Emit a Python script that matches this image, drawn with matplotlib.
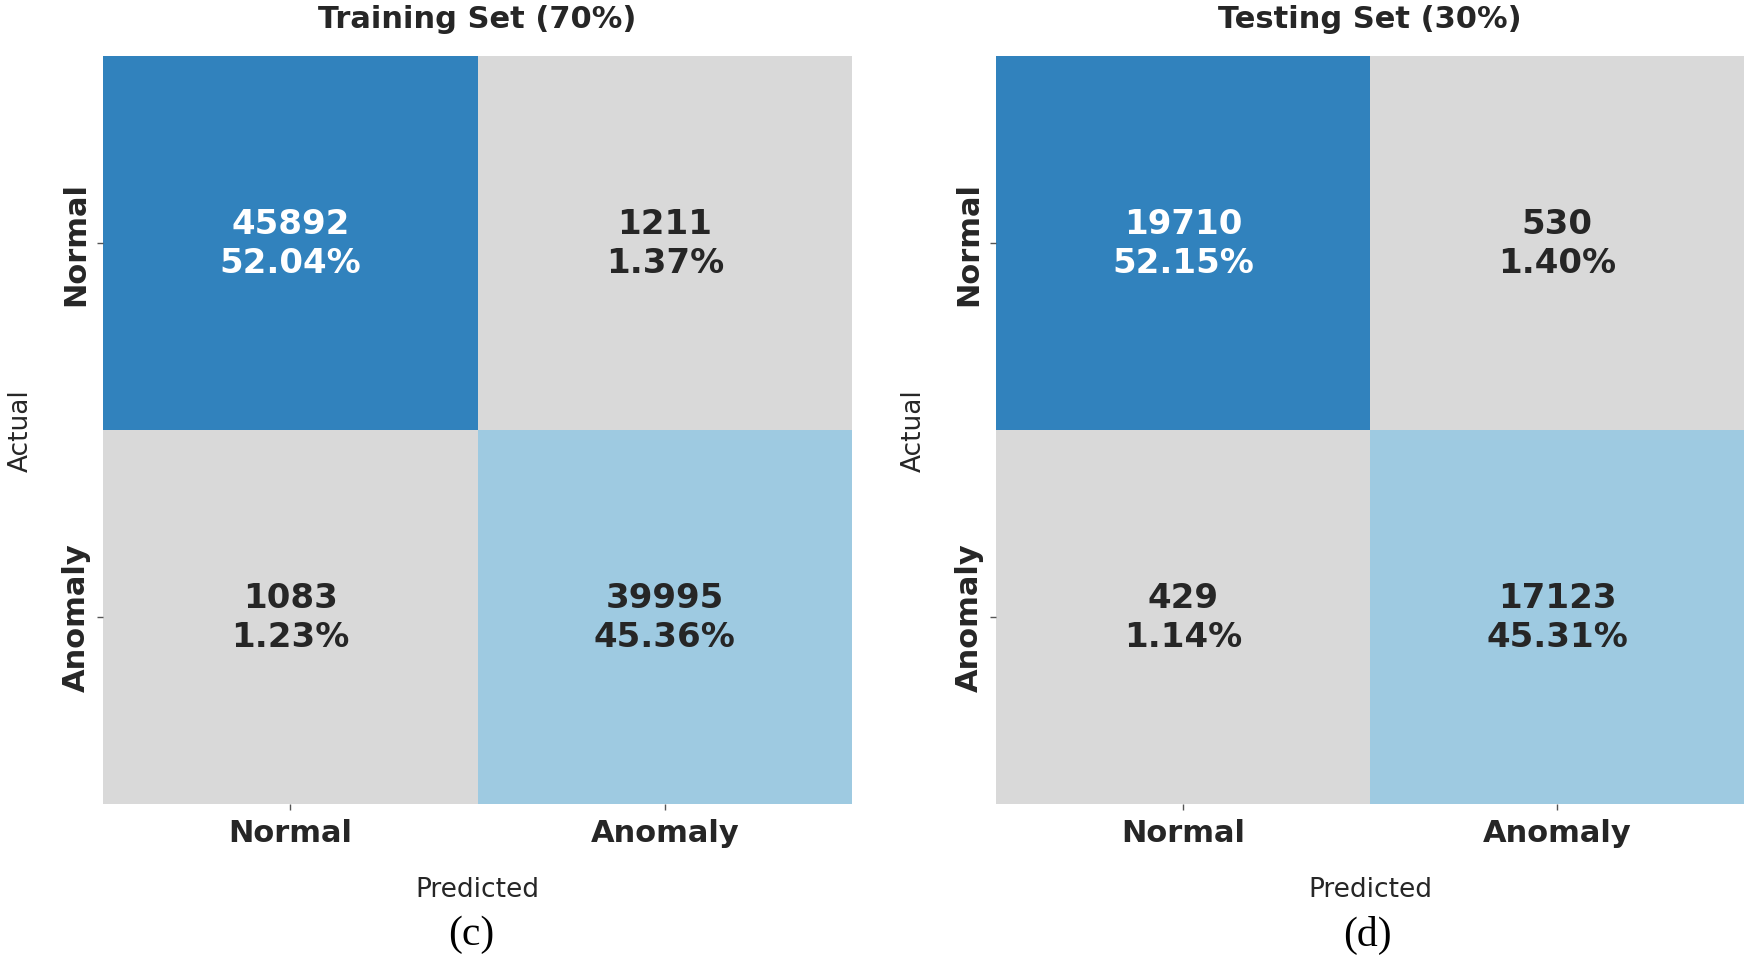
import numpy as np
import matplotlib
matplotlib.use("Agg")
import matplotlib.pyplot as plt
from matplotlib.colors import ListedColormap, BoundaryNorm

# ---- data ----
class_labels = ["Normal", "Anomaly"]
train_counts = [[45892, 1211],
                [1083, 39995]]
test_counts = [[19710, 530],
               [429, 17123]]
panel_titles = ["Training Set (70%)", "Testing Set (30%)"]
panel_tags = ["(c)", "(d)"]
x_label = "Predicted"
y_label = "Actual"

cell_colors = ["#d9d9d9", "#9ecae1", "#3182bd"]
dark_text = "#262626"

fig = plt.figure(figsize=(17.5, 9.62), dpi=100)
positions = [[103 / 1750, 157 / 962, 749 / 1750, 748 / 962],
             [996 / 1750, 157 / 962, 748 / 1750, 748 / 962]]
tag_x = [471.5 / 1750, 1367 / 1750]

cmap = ListedColormap(cell_colors)
norm = BoundaryNorm([-0.5, 0.5, 1.5, 2.5], cmap.N)

for counts, title, tag, pos, tx in zip([train_counts, test_counts], panel_titles,
                                       panel_tags, positions, tag_x):
    cm = np.array(counts, dtype=float)
    total = cm.sum()
    n = cm.shape[0]
    # category: off-diagonal -> 0, diagonal -> 1, largest diagonal -> 2
    cat = np.zeros_like(cm)
    diag = np.diag(cm)
    for i in range(n):
        cat[i, i] = 2 if diag[i] == diag.max() else 1
    ax = fig.add_axes(pos)
    ax.pcolormesh(np.arange(n + 1), np.arange(n + 1), cat, cmap=cmap, norm=norm,
                  edgecolors="none")
    ax.set_xlim(0, n)
    ax.set_ylim(n, 0)
    for i in range(n):
        for j in range(n):
            col = "white" if cat[i, j] == 2 else dark_text
            ax.text(j + 0.5, i + 0.5, f"{int(cm[i, j])}\n{cm[i, j] / total * 100:.2f}%",
                    ha="center", va="center", fontsize=24.5, fontweight="bold",
                    color=col, linespacing=1.25)
    ax.set_xticks(np.arange(n) + 0.5)
    ax.set_yticks(np.arange(n) + 0.5)
    ax.set_xticklabels(class_labels, fontsize=22, fontweight="bold", color=dark_text)
    ax.set_yticklabels(class_labels, fontsize=22, fontweight="bold", color=dark_text,
                       rotation=90, va="center")
    ax.tick_params(axis="x", length=4, width=1, color="#555555", pad=6)
    ax.tick_params(axis="y", length=4, width=1, color="#555555", pad=5)
    for s in ax.spines.values():
        s.set_visible(False)
    ax.set_xlabel(x_label, fontsize=19, color=dark_text, labelpad=21)
    ax.set_ylabel(y_label, fontsize=19, color=dark_text, labelpad=20)
    ax.set_title(title, fontsize=22, fontweight="bold", color=dark_text, pad=21)
    fig.text(tx, 1 - 935 / 962, tag, ha="center", va="center", fontsize=30,
             family="Liberation Serif", color="black")

fig.savefig("out.png", dpi=100)
